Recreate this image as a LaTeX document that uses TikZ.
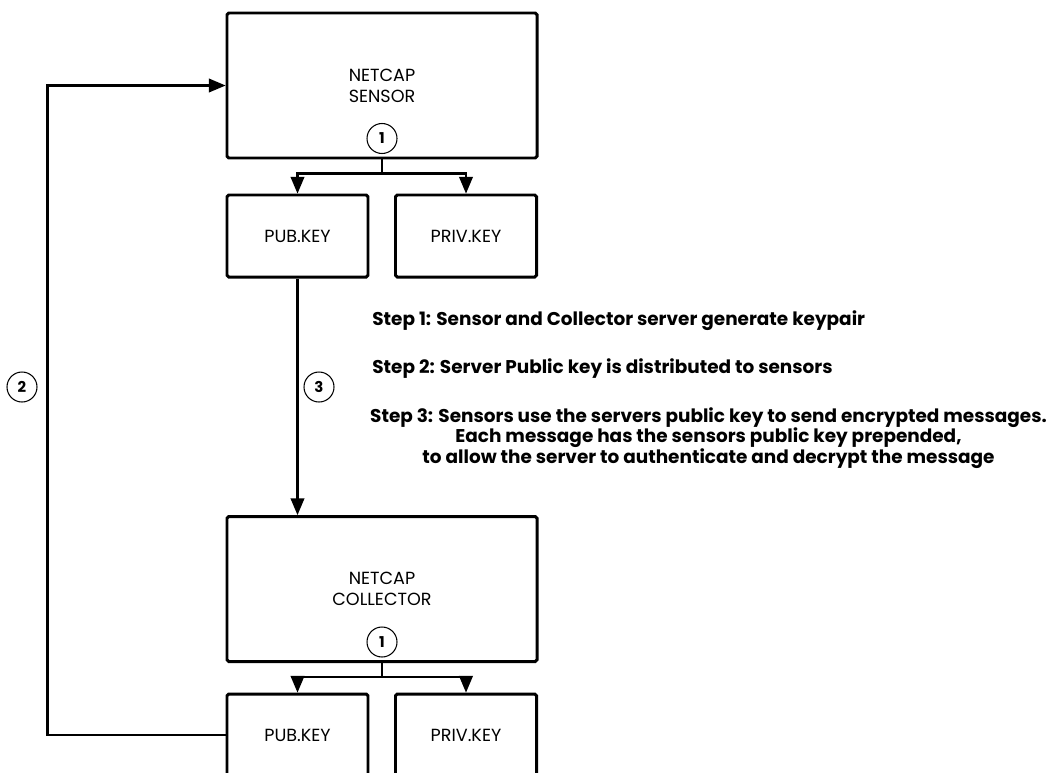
\documentclass[tikz,border=0pt]{standalone}
\usepackage{fontspec}
\setmainfont{Poppins}
\usepackage{tikz}
\usetikzlibrary{shapes.geometric, arrows}
\tikzstyle{bigbox} = [rectangle, minimum width=6.2cm, minimum height=2.9cm, text centered, align=center, draw=black, line width=1.7pt, rounded corners=1pt, font=\fontsize{10}{11.9}\selectfont]
\tikzstyle{keybox} = [rectangle, minimum width=2.82cm, minimum height=1.64cm, text centered, draw=black, line width=1.7pt, rounded corners=1pt, font=\fontsize{10}{11.9}\selectfont]
\tikzstyle{num} = [circle, minimum size=0.6cm, inner sep=0pt, draw=black, line width=0.6pt, font=\bfseries\fontsize{8.5}{9}\selectfont]
\tikzstyle{steptext} = [inner sep=0pt, align=center, font=\bfseries\fontsize{10.5}{11.6}\selectfont]
\tikzstyle{arrow} = [line width=1.2pt,->,>=triangle 45]

\begin{document}
\begin{tikzpicture}[node distance=3.01cm]
        \clip (0,0) rectangle (21.02,-15.44);
        \node (sensor) [bigbox] at (7.64,-1.71) {NETCAP\\SENSOR};
        \node (pub) [keybox, below of=sensor, xshift=-1.69cm] {PUB.KEY};
        \node (priv) [keybox, right of=pub, xshift=0.36cm] {PRIV.KEY};
        \node (collector) [bigbox] at (7.64,-11.78) {NETCAP\\COLLECTOR};
        \node (cpub) [keybox, below of=collector, xshift=-1.69cm, yshift=0.09cm] {PUB.KEY};
        \node (cpriv) [keybox, right of=cpub, xshift=0.36cm] {PRIV.KEY};

        \node (n1s) [num] at ([yshift=0.42cm]sensor.south) {1};
        \node (n1c) [num] at ([yshift=0.42cm]collector.south) {1};
        \node (n2) [num] at (0.44,-7.74) {2};
        \node (n3) [num] at (6.38,-7.74) {3};

        \node (step1) [steptext, anchor=west] at (7.44,-6.42) {Step 1: Sensor and Collector server generate keypair};
        \node (step2) [steptext, anchor=west] at (7.44,-7.38) {Step 2: Server Public key is distributed to sensors};
        \node (step3) [steptext] at (14.17,-8.76) {Step 3: Sensors use the servers public key to send encrypted messages.\\Each message has the sensors public key prepended,\\to allow the server to authenticate and decrypt the message};

        \coordinate (sj) at ([yshift=-0.28cm]sensor.south);
        \coordinate (cj) at ([yshift=-0.28cm]collector.south);
        \draw [arrow] (sensor.south) -- (sj) -| (pub.north);
        \draw [arrow] (sj) -| (priv.north);
        \draw [arrow] (collector.south) -- (cj) -| (cpub.north);
        \draw [arrow] (cj) -| (cpriv.north);
        \draw [arrow] (pub.south) -- (pub.south |- collector.north);
        \draw [arrow] (cpub.west) -- ++(-3.56,0) |- (sensor.west);
    \end{tikzpicture}
\end{document}
